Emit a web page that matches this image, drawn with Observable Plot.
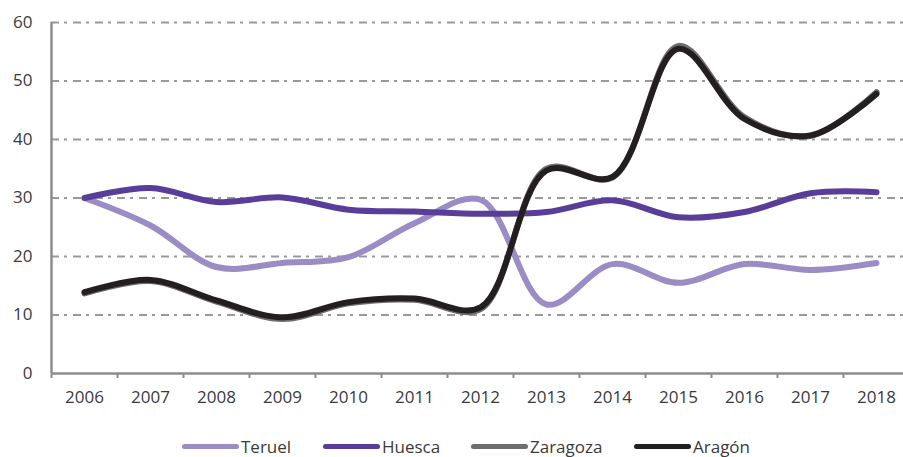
<!DOCTYPE html>
<html>
<head>
<meta charset="utf-8">
<script src="https://cdn.jsdelivr.net/npm/d3@7"></script>
<script src="https://cdn.jsdelivr.net/npm/@observablehq/plot@0.6"></script>
<style>
  html, body { margin: 0; padding: 0; background: #fff; }
  body { width: 903px; height: 457px; overflow: hidden; font-family: "Open Sans", "Noto Sans", sans-serif; }
  #legend { position: relative; height: 22px; }
  .item { position: absolute; top: 0; height: 22px; display: flex; align-items: center; font-size: 17px; color: #3a3a3a; }
  .sw { display: inline-block; width: 57px; height: 5px; border-radius: 3px; margin-right: 2px; }
</style>
</head>
<body>
<div id="chart"></div>
<div id="legend"></div>
<script>
const years = [2006, 2007, 2008, 2009, 2010, 2011, 2012, 2013, 2014, 2015, 2016, 2017, 2018];
const teruel   = [30, 25.3, 18.2, 18.9, 19.9, 25.7, 29.7, 11.8, 18.7, 15.5, 18.7, 17.7, 18.9];
const huesca   = [30, 31.7, 29.3, 30.1, 28.0, 27.7, 27.3, 27.6, 29.6, 26.7, 27.6, 30.8, 31.0];
const zaragoza = [13.7, 15.8, 12.3, 9.3, 12.0, 12.6, 11.0, 35.0, 33.5, 56.0, 43.8, 40.6, 48.1];
const aragon   = [13.9, 16.0, 12.5, 9.6, 12.2, 12.8, 11.3, 34.7, 33.6, 55.5, 43.5, 40.7, 47.8];
const seriesNames = ["Teruel", "Huesca", "Zaragoza", "Aragón"];
const seriesColors = ["#9b8cc5", "#583e98", "#6e6e6e", "#231f20"];
const yTicks = [0, 10, 20, 30, 40, 50, 60];

const allSeries = [teruel, huesca, zaragoza, aragon];
const data = [];
allSeries.forEach((vals, i) => vals.forEach((v, j) => data.push({series: seriesNames[i], year: years[j], value: v})));
const bounds = years.map(y => y - 0.5).concat([years[years.length - 1] + 0.5]);

const axisColor = "#8c8c8c";
const textColor = "#3a3a3a";

const chart = Plot.plot({
  width: 903,
  height: 435,
  marginLeft: 51,
  marginRight: 0,
  marginTop: 22,
  marginBottom: 62,
  style: {fontFamily: "'Open Sans', 'Noto Sans', sans-serif", fontSize: "17px", color: textColor, background: "#fff", overflow: "visible"},
  x: {type: "linear", domain: [2005.5, 2018.5], range: [51, 909], label: null},
  y: {domain: [0, 60], range: [373, 22], label: null},
  color: {domain: seriesNames, range: seriesColors},
  marks: [
    Plot.ruleY(yTicks.filter(d => d > 0), {x1: 2005.5, x2: 2018.5, stroke: "#999", strokeWidth: 2, strokeDasharray: "8,5,3,6"}),
    Plot.axisX(bounds, {tickSize: 5, tickFormat: () => "", stroke: axisColor, strokeWidth: 2, label: null}),
    Plot.axisX(years, {tickSize: 0, tickPadding: 17, tickFormat: d => String(d), fill: textColor, fontSize: 17, label: null}),
    Plot.axisY(yTicks, {tickSize: 0, tickPadding: 19, fill: textColor, fontSize: 17, label: null}),
    Plot.ruleY([0], {x1: 2005.5, x2: 2018.5, stroke: axisColor, strokeWidth: 2.5}),
    Plot.ruleX([2005.5], {y1: 0, y2: 60, stroke: axisColor, strokeWidth: 2.5}),
    Plot.line(data, {x: "year", y: "value", z: "series", stroke: "series", strokeWidth: 6, curve: "catmull-rom", strokeLinecap: "round", strokeLinejoin: "round"})
  ]
});
document.getElementById("chart").appendChild(chart);

const legend = document.getElementById("legend");
const lefts = [182, 323, 471, 634];
seriesNames.forEach((name, i) => {
  const item = document.createElement("div");
  item.className = "item";
  item.style.left = lefts[i] + "px";
  const sw = document.createElement("span");
  sw.className = "sw";
  sw.style.background = seriesColors[i];
  item.appendChild(sw);
  item.appendChild(document.createTextNode(name));
  legend.appendChild(item);
});
</script>
</body>
</html>
